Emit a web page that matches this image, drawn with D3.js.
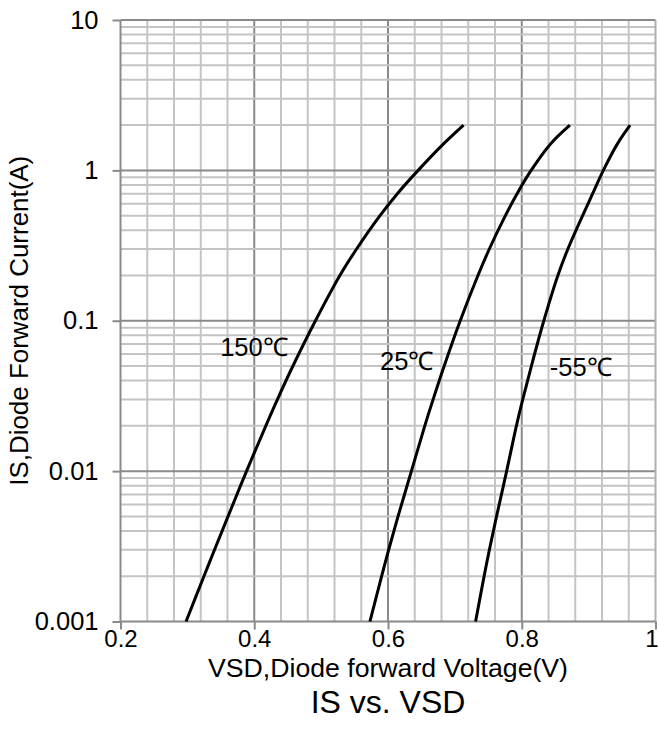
<!DOCTYPE html>
<html>
<head>
<meta charset="utf-8">
<script src="https://cdn.jsdelivr.net/npm/d3@7"></script>
<style>
  body { margin: 0; background: #fff; }
  svg text { font-family: "Liberation Sans", Arial, sans-serif; fill: #000; }
</style>
</head>
<body>
<div id="chart_div"></div>
<script>
// curve data: VSD (V) vs IS (A)
var vsd_150 = [0.298, 0.3248, 0.3406, 0.3608, 0.3885, 0.4173, 0.4347, 0.4578, 0.4915, 0.528, 0.553, 0.588, 0.614, 0.645, 0.683, 0.713];
var is_150  = [0.001, 0.002, 0.003, 0.005, 0.01, 0.02, 0.03, 0.05, 0.1, 0.2, 0.3, 0.5, 0.7, 1, 1.5, 2];

var vsd_25 = [0.573, 0.5905, 0.601, 0.615, 0.635, 0.655, 0.6675, 0.684, 0.708, 0.7345, 0.7515, 0.7755, 0.793, 0.814, 0.843, 0.872];
var is_25  = [0.001, 0.002, 0.003, 0.005, 0.01, 0.02, 0.03, 0.05, 0.1, 0.2, 0.3, 0.5, 0.7, 1, 1.5, 2];

var vsd_m55 = [0.731, 0.7437, 0.7516, 0.7623, 0.7774, 0.792, 0.8015, 0.8144, 0.833, 0.854, 0.869, 0.891, 0.906, 0.922, 0.943, 0.962];
var is_m55  = [0.001, 0.002, 0.003, 0.005, 0.01, 0.02, 0.03, 0.05, 0.1, 0.2, 0.3, 0.5, 0.7, 1, 1.5, 2];

var x_ticks = [0.2, 0.4, 0.6, 0.8, 1];
var y_ticks = [0.001, 0.01, 0.1, 1, 10];
var y_tick_labels = ['0.001', '0.01', '0.1', '1', '10'];

var series_labels = [
    { name: '150\u2103', v: 0.349, i: 0.058 },
    { name: '25\u2103', v: 0.588, i: 0.047 },
    { name: '-55\u2103', v: 0.842, i: 0.043 }
];

function chart() {
    var width = 659, height = 743;
    var margin = ({ top: 20, right: 3.5, bottom: 121.5, left: 120.5 });

    var svg = d3.select('#chart_div')
        .append('svg')
        .attr('width', width)
        .attr('height', height);

    var x = d3.scaleLinear().domain([0.2, 1]).range([margin.left, width - margin.right]);
    var y = d3.scaleLog().domain([0.001, 10]).range([height - margin.bottom, margin.top]);

    var grid = svg.append('g').attr('id', 'grid');

    // vertical grid, every 0.04 V
    var x_minor = d3.range(6, 25).map(function(k) { return k * 0.04; })
        .filter(function(v) { return v > 0.21 && v < 0.99; });
    grid.selectAll('line.xminor').data(x_minor).enter()
        .append('line')
        .attr('x1', function(d) { return x(d); })
        .attr('x2', function(d) { return x(d); })
        .attr('y1', y(10)).attr('y2', y(0.001))
        .attr('stroke', function(d) {
            var isMajor = Math.abs(d / 0.2 - Math.round(d / 0.2)) < 1e-6;
            return isMajor ? '#8a8a8a' : '#c4c4c4';
        })
        .attr('stroke-width', 2);

    // horizontal grid, log minors
    var y_minor = [];
    [0.001, 0.01, 0.1, 1].forEach(function(dec) {
        for (var k = 2; k <= 9; k++) y_minor.push(k * dec);
    });
    grid.selectAll('line.yminor').data(y_minor).enter()
        .append('line')
        .attr('x1', x(0.2)).attr('x2', x(1))
        .attr('y1', function(d) { return y(d); })
        .attr('y2', function(d) { return y(d); })
        .attr('stroke', '#c4c4c4')
        .attr('stroke-width', 2);

    grid.selectAll('line.ymajor').data([0.01, 0.1, 1]).enter()
        .append('line')
        .attr('x1', x(0.2)).attr('x2', x(1))
        .attr('y1', function(d) { return y(d); })
        .attr('y2', function(d) { return y(d); })
        .attr('stroke', '#8a8a8a')
        .attr('stroke-width', 2);

    // frame
    grid.append('line').attr('x1', x(0.2)).attr('x2', x(1)).attr('y1', y(10)).attr('y2', y(10))
        .attr('stroke', '#8a8a8a').attr('stroke-width', 2);
    grid.append('line').attr('x1', x(1)).attr('x2', x(1)).attr('y1', y(10)).attr('y2', y(0.001))
        .attr('stroke', '#b0b0b0').attr('stroke-width', 2);

    // axes
    var yAxis = d3.axisLeft(y).tickValues(y_ticks)
        .tickFormat(function(d, i) { return y_tick_labels[i]; })
        .tickSize(8).tickPadding(14);
    var xAxis = d3.axisBottom(x).tickValues(x_ticks)
        .tickFormat(d3.format('')).tickSize(8).tickPadding(0);

    var gy = svg.append('g').attr('transform', `translate(${margin.left},0)`).call(yAxis);
    var gx = svg.append('g').attr('transform', `translate(0,${height - margin.bottom})`).call(xAxis);
    [gx, gy].forEach(function(g) {
        g.selectAll('path, line').attr('stroke', '#8a8a8a').attr('stroke-width', 2);
        g.selectAll('text').style('font-family', '"Liberation Sans", Arial, sans-serif')
            .style('font-size', '25.5px').attr('fill', '#000');
    });
    gx.selectAll('text').style('font-size', '24px');
    gx.selectAll('.tick').filter(function(d) { return d === 1; }).select('text').attr('dx', -4);
    gy.select('.domain').attr('d', `M0,${y(10)}V${y(0.001)}`);
    gx.select('.domain').attr('d', `M${x(0.2)},0H${x(1)}`);

    // curves
    var line = d3.line()
        .x(function(d) { return x(d[0]); })
        .y(function(d) { return y(d[1]); })
        .curve(d3.curveCatmullRom.alpha(0.5));

    var curves = [
        d3.zip(vsd_150, is_150),
        d3.zip(vsd_25, is_25),
        d3.zip(vsd_m55, is_m55)
    ];
    svg.append('g').selectAll('path').data(curves).enter()
        .append('path')
        .attr('d', line)
        .attr('fill', 'none')
        .attr('stroke', '#000')
        .attr('stroke-width', 3);

    // curve labels
    svg.append('g').selectAll('text').data(series_labels).enter()
        .append('text')
        .attr('x', function(d) { return x(d.v); })
        .attr('y', function(d) { return y(d.i); })
        .style('font-size', '25.5px')
        .text(function(d) { return d.name; });

    // titles
    svg.append('text')
        .attr('x', (x(0.2) + x(1)) / 2)
        .attr('y', 677)
        .attr('text-anchor', 'middle')
        .attr('textLength', 360)
        .attr('lengthAdjust', 'spacingAndGlyphs')
        .style('font-size', '26px')
        .text('VSD,Diode forward Voltage(V)');

    svg.append('text')
        .attr('x', (x(0.2) + x(1)) / 2)
        .attr('y', 713)
        .attr('text-anchor', 'middle')
        .style('font-size', '32px')
        .text('IS vs. VSD');

    svg.append('text')
        .attr('transform', `translate(28,${(y(10) + y(0.001)) / 2}) rotate(-90)`)
        .attr('text-anchor', 'middle')
        .attr('textLength', 330)
        .attr('lengthAdjust', 'spacingAndGlyphs')
        .style('font-size', '26.5px')
        .text('IS,Diode Forward Current(A)');
}

chart();
</script>
</body>
</html>
